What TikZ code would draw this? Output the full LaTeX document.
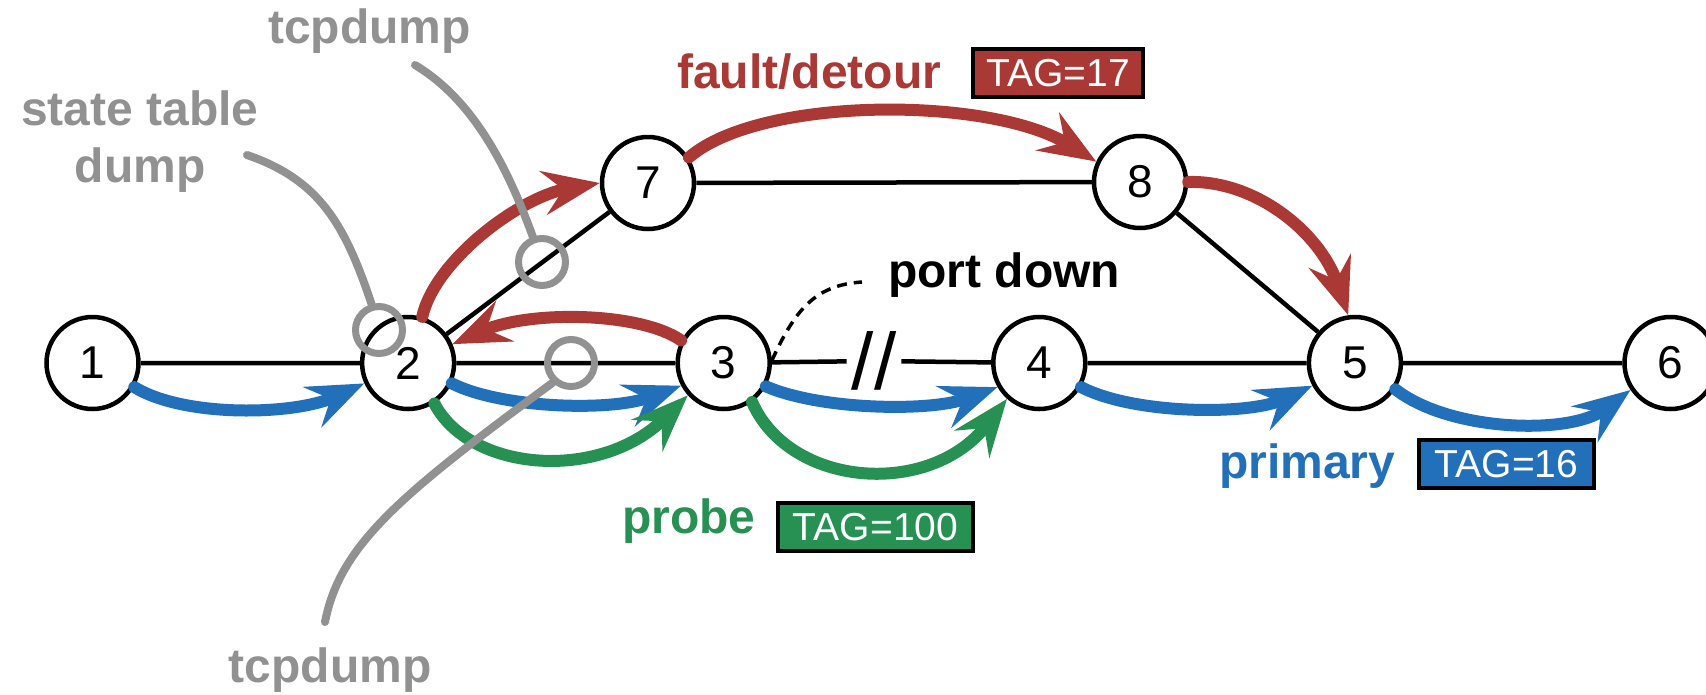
\documentclass[tikz,border=0pt]{standalone}
\usepackage{fontspec}
\setmainfont{Liberation Sans}
\usetikzlibrary{arrows.meta}

\begin{document}
\begin{tikzpicture}[x=1pt, y=-1pt,
    switch/.style={draw, shape=circle, line width=4.5pt, fill=white, minimum size=92pt, inner sep=0pt, font=\fontsize{46}{46}\selectfont},
    link/.style={line width=4.5pt},
    flow/.style={line width=12pt, line cap=round, -{Stealth[length=57pt, width=44pt, inset=20pt]}},
    tap/.style={draw=Gcolor, shape=circle, line width=7pt, minimum size=47pt, inner sep=0pt},
    lead/.style={draw=Gcolor, line width=8pt, line cap=round},
    lbl/.style={font=\fontsize{48}{57}\selectfont\bfseries, inner sep=0pt},
    tagbox/.style={draw=black, line width=4.5pt, text=white, inner sep=0pt, minimum height=48pt, font=\fontsize{39}{39}\selectfont}]
            \definecolor{Rcolor}{RGB}{170, 56, 52}
            \definecolor{Bcolor}{RGB}{35, 112, 186}
            \definecolor{Pcolor}{RGB}{38, 145, 82}
            \definecolor{Gcolor}{RGB}{145, 145, 145}
            \def\rowy{363}
            \def\firstx{92.5}
            \def\nodedistance{315.6}
            \useasboundingbox (0, 0) rectangle (1706, 694);
            \node[switch] (n1) at (\firstx, \rowy) {1};
            \node[switch] (n2) at ({\firstx+\nodedistance}, \rowy) {2};
            \node[switch] (n3) at ({\firstx+2*\nodedistance}, \rowy) {3};
            \node[switch] (n4) at ({\firstx+3*\nodedistance}, \rowy) {4};
            \node[switch] (n5) at ({\firstx+4*\nodedistance}, \rowy) {5};
            \node[switch] (n6) at ({\firstx+5*\nodedistance}, \rowy) {6};
            \node[switch] (n7) at (648, 183) {7};
            \node[switch] (n8) at (1140, 182) {8};
            \node[font=\fontsize{80}{80}\selectfont, inner xsep=5pt, inner ysep=0pt] (brk) at (874, 361) {//};
            \draw[link] (n1) -- (n2) -- (n3) -- (brk);
            \draw[link] (brk) -- (n4) -- (n5) -- (n6);
            \draw[link] (n2) -- (n7) -- (n8) -- (n5);
            \node[lbl, text=Gcolor, anchor=base] (tcptop) at (369.5, 43) {tcpdump};
            \node[lbl, text=Gcolor, align=center, anchor=base] (statelbl) at (140, 182) {state table\\dump};
            \node[lbl, text=Gcolor, anchor=base] (tcpbot) at (330, 682) {tcpdump};
            \node[lbl, text=Rcolor, anchor=base west] (faultlbl) at (677, 88) {fault/detour};
            \node[tagbox, fill=Rcolor, minimum width=170pt] (tag17) at (1058, 73) {TAG=17};
            \node[lbl, anchor=base west] (downlbl) at (888, 287) {port down};
            \node[lbl, text=Pcolor, anchor=base west] (probelbl) at (622, 533) {probe};
            \node[tagbox, fill=Pcolor, minimum width=195pt] (tag100) at (875.5, 527) {TAG=100};
            \node[lbl, text=Bcolor, anchor=base west] (primlbl) at (1219, 478) {primary};
            \node[tagbox, fill=Bcolor, minimum width=175pt] (tag16) at (1506.5, 464) {TAG=16};
            \coordinate (downend) at (862, 282);
            \draw[line width=3.5pt, dash pattern=on 10pt off 7pt] (n3.3) .. controls (795, 310) and (815, 285) .. (downend);
            \draw[flow, Bcolor] (n1.-30) .. controls (185, 418) and (295, 415) .. (n2.-155);
            \draw[flow, Bcolor] (n2.-25) .. controls (500, 408) and (610, 412) .. (n3.-152);
            \draw[flow, Bcolor] (n3.-29) .. controls (820, 410) and (930, 412) .. (n4.-150);
            \draw[flow, Bcolor] (n4.-30) .. controls (1135, 415) and (1250, 415) .. (n5.-152);
            \draw[flow, Bcolor] (n5.-33) .. controls (1450, 432) and (1570, 435) .. (n6.-146);
            \draw[flow, Pcolor] (n2.-57) .. controls (470, 472) and (600, 482) .. (n3.-138);
            \draw[flow, Pcolor] (n3.-54) .. controls (790, 488) and (930, 498) .. (n4.-132);
            \draw[flow, Rcolor] (n2.73) .. controls (435, 260) and (520, 197) .. (n7.west);
            \draw[flow, Rcolor] (n3.152) .. controls (640, 312) and (530, 310) .. (n2.23);
            \draw[flow, Rcolor] (n7.32) .. controls (760, 96) and (990, 96) .. (n8.155);
            \draw[flow, Rcolor] (n8.east) .. controls (1255, 180) and (1320, 232) .. (n5.98);
            \node[tap] (statetap) at (379, 330) {};
            \node[tap] (tap27) at (542, 262) {};
            \node[tap] (tap23) at (571, 363) {};
            \coordinate (stateend) at (247, 155);
            \coordinate (topend) at (415, 65);
            \coordinate (botend) at (325, 622);
            \draw[lead] (stateend) .. controls (320, 180) and (345, 225) .. (statetap.106);
            \draw[lead] (topend) .. controls (470, 98) and (505, 160) .. (tap27.110);
            \draw[lead] (botend) .. controls (340, 545) and (400, 495) .. (tap23.-133);
        \end{tikzpicture}
\end{document}
